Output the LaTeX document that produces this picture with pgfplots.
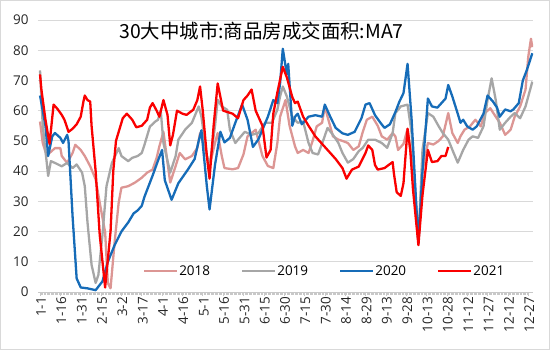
\documentclass[border=0pt]{standalone}
\usepackage{fontspec}
\setmainfont{Open Sans}
\newfontfamily\cjk{Noto Sans CJK SC}
\usepackage{pgfplots}
\pgfplotsset{compat=1.18}
\definecolor{c18}{RGB}{220,150,148}
\definecolor{c19}{RGB}{166,166,166}
\definecolor{c20}{RGB}{22,108,184}
\definecolor{c21}{RGB}{250,0,0}
\definecolor{gridc}{RGB}{217,217,217}
\definecolor{axc}{RGB}{200,200,200}
\begin{document}
\begin{tikzpicture}
\begin{axis}[
  name=ax,
  scale only axis,
  width=495bp, height=272bp,
  xmin=-1.5, xmax=363.5,
  ymin=0, ymax=90,
  ytick={0,10,...,90},
  xtick={0,15,...,360},
  xticklabels={1-1,1-16,1-31,2-15,3-2,3-17,4-1,4-16,5-1,5-16,5-31,6-15,6-30,7-15,7-30,8-14,8-29,9-13,9-28,10-13,10-28,11-12,11-27,12-12,12-27},
  minor x tick num=14,
  axis x line*=bottom,
  axis y line*=left,
  y axis line style={draw=none},
  x axis line style={draw=axc, line width=0.8bp},
  ytick style={draw=none},
  xtick style={draw=axc, line width=0.6bp},
  tick align=outside,
  major tick length=4bp,
  minor tick length=3bp,
  ymajorgrids,
  grid style={draw=gridc, line width=0.8bp},
  /pgf/number format/assume math mode=true,
  tick label style={font=\fontsize{13.5}{15}\selectfont, text=black!85},
  yticklabel style={xshift=-2bp},
  xticklabel style={rotate=90, anchor=east, inner sep=1bp, yshift=-1bp},
  legend style={at={(rel axis cs:0.578,0.077)}, anchor=center, draw=none, fill=none,
    font=\fontsize{13.5}{15}\selectfont, legend columns=4,
    nodes={inner sep=1bp},
    /tikz/every even column/.append style={column sep=30bp}},
  legend image code/.code={\draw[#1] (0bp,0bp) -- (33bp,0bp);},
  every axis plot/.append style={line width=2.3bp, line join=round, mark=none},
]
% 2018
\addplot[c18] coordinates {
(0,56.4)(2,49.3)(5,45)(7,46)(11,47.6)(15,47.6)(16,45)(20,42.7)(24,46)(26,48.7)(30,47)(33,45)(37,41.6)(41,37.3)(44,29.6)(48,19.8)(50,3)(52,1.2)(55,16.5)(58,29.6)(60,34.5)(65,35)(70,36.2)(75,37.8)(79,39.5)(83,40.5)(86,44.4)(88,48.2)(91,53)(94,42.8)(96,36.2)(100,41.7)(103,46)(107,43.9)(112,45)(116,47.7)(118,52.6)(122,47)(125,41.7)(129,49.3)(131,52.6)(134,45)(136,41)(142,40.6)(146,41)(150,45.5)(153,51.5)(159,53.7)(164,45)(168,41.7)(172,41)(175,49.3)(177,58)(181,63.5)(184,55)(188,48.2)(190,46)(194,47)(198,46)(201,50)(204,54.8)(208,56)(210,61.4)(212,58)(216,51.5)(220,50.4)(223,50)(227,49.3)(231,47)(235,48.2)(238,53)(241,57)(245,58)(249,55)(252,51.5)(256,50.4)(260,52.6)(262,51.5)(264,47)(268,49)(271,54)(275,40)(279,17)(282,40)(286,49.3)(290,48.8)(294,50)(297,51.5)(301,59.2)(304,52.6)(308,49.3)(310,51.5)(313,53.7)(317,54.8)(321,57)(325,54.8)(328,59.2)(332,60.8)(336,58)(339,56)(343,52)(347,53.7)(350,58)(354,61.4)(358,67)(360,77.8)(362,83.8)(363,81)
};
\addlegendentry{2018}
% 2019
\addplot[c19] coordinates {
(0,73.3)(2,55)(6,38.4)(8,43.3)(11,42.7)(16,41.6)(20,42.7)(24,41)(27,42.2)(31,39.5)(33,35)(35,23)(38,9)(41,3)(43,5.6)(46,18.7)(49,35)(53,42.7)(58,47.6)(60,45)(65,43.3)(68,44.4)(72,45)(75,46)(77,48.7)(81,54.7)(85,56.4)(87,57)(89,60)(91,49.3)(96,39.5)(100,45)(102,50.4)(107,53.7)(112,56)(117,61.4)(119,58)(123,45)(125,41.7)(129,54.8)(131,63.6)(134,61.4)(138,60.3)(140,53.7)(144,49.3)(146,50.4)(151,53)(156,52)(161,52.6)(166,56)(171,56)(175,60.3)(177,64.7)(179,68)(182,64.7)(186,58)(190,56)(194,56.4)(198,49.3)(201,46)(205,45.5)(209,50.4)(212,54.3)(216,52)(220,49.3)(223,46)(227,42.8)(231,44)(235,46.6)(238,47.7)(242,50.4)(247,50.4)(252,49.3)(256,47.7)(260,52.6)(262,59.2)(266,61.4)(271,62)(274,52.6)(279,16.5)(282,47)(286,59.2)(290,58)(294,54.8)(297,52.6)(301,50.4)(305,46)(308,42.8)(312,47)(316,50.4)(319,51.5)(323,51)(327,54.8)(330,63.6)(333,70.7)(336,63.6)(339,53.7)(343,56)(347,58)(350,59.2)(354,57.5)(358,61.4)(360,64.7)(363,69.6)
};
\addlegendentry{2019}
% 2020
\addplot[c20] coordinates {
(0,65)(4,55)(6,45)(9,51.5)(11,52.6)(15,51)(17,49.3)(20,52)(21,50)(24,25)(27,4.5)(30,1.5)(35,1.2)(41,0.6)(46,3.5)(50,10)(55,15.5)(60,20)(65,23)(69,26)(72,27)(75,28.5)(77,31.5)(80,35)(83,38.5)(87,43.5)(90,47)(92,37)(97,30.5)(102,36)(109,40.5)(114,44)(117,50)(119,53.5)(123,35)(125,27.3)(129,42)(133,53)(136,49.5)(140,51)(144,56)(149,62)(153,57)(157,48)(161,50.5)(164,53.7)(168,58)(172,63.5)(175,62.5)(177,69)(179,80.5)(182,72)(183,75.5)(186,55)(188,58)(190,59)(193,55.5)(198,58)(203,58.5)(208,58)(210,62)(214,58)(218,54.3)(223,52.5)(227,52)(232,53)(237,57.5)(240,62)(243,62.5)(247,58.5)(251,56)(254,54.3)(258,55.5)(262,59.5)(265,63)(268,65.8)(271,75.5)(274,57)(279,16)(282,40)(286,64)(289,61.4)(293,61)(295,62)(299,64)(301,68.5)(304,64.7)(308,59)(310,56)(312,57)(315,54.8)(319,53.7)(322,54.8)(327,59)(330,65)(334,63)(337,61)(339,58)(343,60.4)(347,59.8)(349,60.4)(353,62.5)(356,70)(359,73.5)(363,79)
};
\addlegendentry{2020}
% 2021
\addplot[c21] coordinates {
(0,72)(1,67)(4,57)(7,49)(10,62)(13,60.5)(16,58.6)(18,57)(21,53)(24,54)(27,55.5)(30,58)(32,63)(33,65)(35,63.5)(37,63)(38,55)(41,40)(44,19)(48,1.5)(52,20)(54,40)(56,50)(61,57.5)(64,59)(68,57)(71,54.5)(75,55)(79,57)(81,61)(83,62.5)(86,60)(88,58)(91,63.5)(94,58.6)(96,48.5)(98,52)(101,60)(105,59)(108,58.6)(113,60.3)(116,63.5)(118,68)(120,60)(123,45)(125,37.5)(128,55)(131,69)(135,60)(142,59)(146,57.5)(150,63.5)(153,65)(156,67)(159,60)(164,55)(167,44.5)(170,47)(172,59)(175,66)(179,74.5)(182,71)(186,64.5)(188,62.5)(190,63)(194,58)(198,55)(203,51.5)(208,49)(212,47)(218,44)(223,41)(226,37.5)(230,40.5)(235,41.5)(240,46)(242,48.5)(245,47)(247,42)(249,40.5)(254,41)(260,43)(261,39)(263,33)(266,31.8)(268,36)(271,54)(273,47)(275,34)(279,15.5)(282,32)(286,47)(289,43)(293,43.3)(296,45)(299,45)(301,48)
};
\addlegendentry{2021}
\node[font=\cjk\fontsize{19.5}{22}\selectfont, anchor=center] at (rel axis cs:0.4515,0.96) {30大中城市:商品房成交面积:MA7};
\end{axis}
\draw[draw=gridc, line width=1bp] ([xshift=-37.5bp,yshift=-57.5bp]ax.south west) rectangle ([xshift=16.5bp,yshift=19.5bp]ax.north east);
\pgfresetboundingbox
\useasboundingbox ([xshift=-38bp,yshift=-58bp]ax.south west) rectangle ([xshift=17bp,yshift=20bp]ax.north east);
\end{tikzpicture}
\end{document}
